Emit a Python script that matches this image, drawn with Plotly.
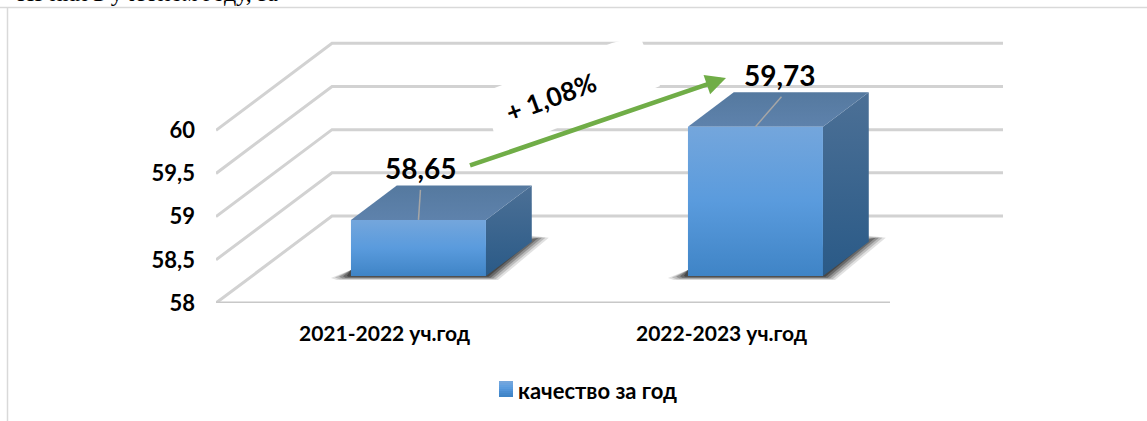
import plotly.graph_objects as go

# ---------- data ----------
categories = ["2021-2022 уч.год", "2022-2023 уч.год"]
quality = [58.65, 59.73]
value_labels = ["58,65", "59,73"]
y_ticks = [58, 58.5, 59, 59.5, 60]
y_tick_labels = ["58", "58,5", "59", "59,5", "60"]
series_name = "качество за год"
delta_label = "+ 1,08%"
clipped_line = "Из них в учебном году, за"

# ---------- oblique-projection geometry ----------
W, H = 1147, 421
L, R, T, B = 216, 144, 40, 118
SLOT = 337.0            # px per category
UNIT = 86.35            # px per value unit
X0, X1 = -0.5, -0.5 + (W - L - R) / SLOT
Y0, Y1 = 58.0, 58.0 + (H - T - B) / UNIT
DEPTH_X = 116 / SLOT    # category units, full depth of the floor
DEPTH_Y = 87 / UNIT     # value units, full depth of the floor
BAR_HALF = 67.5 / SLOT
BAR_SHIFT = -2 / SLOT
T_FRONT, T_BACK = 0.31, 0.705
FONT = "Lato, Carlito, 'Open Sans', sans-serif"
LABEL_DX = [3, 25]      # px offset of the value labels from the bar's front face
LEADER_DX = [2, 26]
SWATCH = ["#74a6dc", "#6ca3de", "#62a0df", "#5a9bdd", "#5294d8", "#4a8dd1", "#4488cb", "#3f84c6"]


def pr(x, v, t=0.0):
    """Project a (category, value, depth) point on the axes."""
    return x + t * DEPTH_X, v + t * DEPTH_Y


def px(xp, yp):
    """Axis coordinates of a decorative element given in screen offset."""
    return X0 + (xp - L) / SLOT, Y0 + (H - B - yp) / UNIT


def poly(points, **kw):
    xs, ys = zip(*(points + points[:1]))
    return go.Scatter(x=xs, y=ys, mode="lines", fill="toself", line=dict(width=0),
                      hoverinfo="skip", showlegend=False, cliponaxis=False, **kw)


def grad(top, mid, bottom=None):
    cs = [[0, bottom], [0.5, mid], [1, top]] if bottom else [[0, mid], [1, top]]
    return dict(type="vertical", colorscale=cs)


def paper_x(xp):
    return (xp - L) / (W - L - R)


def paper_y(yp):
    return (H - B - yp) / (H - T - B)


fig = go.Figure()
GRID = "#d2d2d2"


def line(pts, color=GRID, width=3):
    xs, ys = zip(*pts)
    fig.add_trace(go.Scatter(x=xs, y=ys, mode="lines", line=dict(color=color, width=width),
                             hoverinfo="skip", showlegend=False, cliponaxis=False))


# gridlines: side wall + back wall, and the floor front edge
for v in y_ticks:
    line([pr(X0, v, 0), pr(X0, v, 1), pr(X0 + (1003 - 332) / SLOT, v, 1)])
line([pr(X0, 58), pr(X0 + 2, 58)], color="#c8c8c8")

# white label box that hides parts of the gridlines
fig.add_trace(poly([px(484, 92), px(612, 43), px(640, 36), px(660, 86), px(550, 131), px(498, 150)],
                   fillcolor="white"))

# bars
for i, v in enumerate(quality):
    c = i + BAR_SHIFT
    xl, xr = c - BAR_HALF, c + BAR_HALF
    # blurred contact shadow
    bl, br = pr(xl, 58, T_FRONT), pr(xr, 58, T_FRONT)
    bb = pr(xr, 58, T_BACK)
    for k, a in ((1.0, 0.14), (0.8, 0.2), (0.6, 0.28), (0.4, 0.38), (0.2, 0.5)):
        fig.add_trace(poly([(bl[0] - 20 * k / SLOT, bl[1] + (1 - 3 * k) / UNIT),
                            (bl[0] - 14 * k / SLOT, bl[1] - 4 * k / UNIT),
                            (br[0] + 12 * k / SLOT, br[1] - 4 * k / UNIT),
                            (bb[0] + 17 * k / SLOT, bb[1] + 4 / UNIT),
                            (bb[0], bb[1] + 6 * k / UNIT),
                            (bl[0], bl[1] + 6 / UNIT)],
                           fillcolor=f"rgba(40,40,40,{a})"))
    fl, fr = pr(xl, v, T_FRONT), pr(xr, v, T_FRONT)
    fbl, fbr = pr(xl, 58, T_FRONT), pr(xr, 58, T_FRONT)
    bkl, bkr = pr(xl, v, T_BACK), pr(xr, v, T_BACK)
    bkb = pr(xr, 58, T_BACK)
    # side, top, front
    fig.add_trace(poly([fr, bkr, bkb, fbr], fillgradient=grad("#4c7096", "#2a5a87")))
    fig.add_trace(poly([fl, fr, bkr, bkl], fillgradient=grad("#55799f", "#5e82ac")))
    fig.add_trace(poly([fl, fr, fbr, fbl], fillgradient=grad("#74a6dc", "#5a9bdd", "#3f84c6"),
                       name=categories[i]))
    # leader line and value label
    sx, sy = pr(c, v, T_FRONT)
    line([(sx, sy), (sx + LEADER_DX[i] / SLOT, sy + 30 / UNIT)], color="#a6a6a6", width=1.5)
    fig.add_annotation(x=sx + LABEL_DX[i] / SLOT, y=sy + 52 / UNIT,
                       text=f"<b>{value_labels[i]}</b>", showarrow=False,
                       font=dict(family=FONT, size=28, color="black"))

# growth arrow
hx, hy = px(726, 78)
tx, ty = px(468.5, 166)
fig.add_annotation(x=hx, y=hy, ax=tx, ay=ty, xref="x", yref="y", axref="x", ayref="y",
                   showarrow=True, arrowhead=2, arrowsize=0.9, arrowwidth=4.5,
                   arrowcolor="#70ad47", text="")
cx, cy = px(551, 97)
fig.add_annotation(x=cx, y=cy, text=f"<b>{delta_label}</b>", textangle=-20, showarrow=False,
                   font=dict(family=FONT, size=26, color="black"))

# legend swatch (gradient bands) and text
swatch_shapes = [
    dict(type="rect", xref="paper", yref="paper", x0=paper_x(499), x1=paper_x(513),
         y0=paper_y(381 + 2 * n), y1=paper_y(383 + 2 * n), fillcolor=col, line=dict(width=0))
    for n, col in enumerate(SWATCH)
]
fig.add_annotation(xref="paper", yref="paper", x=paper_x(518), y=paper_y(390.5),
                   text=f"<b>{series_name}</b>", showarrow=False, xanchor="left", yanchor="middle",
                   xshift=-2, font=dict(family=FONT, size=22, color="black"))
# clipped text of the surrounding page
fig.add_annotation(xref="paper", yref="paper", x=paper_x(15), y=paper_y(-7),
                   yanchor="middle", xanchor="left", text=clipped_line, showarrow=False,
                   font=dict(family="Liberation Serif", size=24, color="black"))

fig.update_layout(
    width=W, height=H, autosize=False,
    margin=dict(l=L, r=R, t=T, b=B, pad=0),
    paper_bgcolor="white", plot_bgcolor="white", showlegend=False,
    shapes=[
        dict(type="line", xref="paper", yref="paper", x0=-1, x1=2, y0=paper_y(7.5), y1=paper_y(7.5),
             line=dict(color="#d9d9d9", width=1.5)),
        dict(type="line", xref="paper", yref="paper", x0=paper_x(7.5), x1=paper_x(7.5),
             y0=-1, y1=paper_y(7.5), line=dict(color="#d9d9d9", width=1.5)),
    ] + swatch_shapes,
    xaxis=dict(range=[X0, X1], tickmode="array", tickvals=[0, 1], ticktext=[f"<b>{c}</b>" for c in categories],
               showgrid=False, zeroline=False, showline=False, ticks="", ticklabelstandoff=16,
               tickfont=dict(family=FONT, size=21, color="black")),
    yaxis=dict(range=[Y0, Y1], tickmode="array", tickvals=y_ticks, ticktext=[f"<b>{c}</b>" for c in y_tick_labels],
               showgrid=False, zeroline=False, showline=False, ticks="", ticklabelstandoff=20,
               tickfont=dict(family=FONT, size=22, color="black")),
)
fig.write_html("out.html", config=dict(displayModeBar=False),
               post_script="document.body.style.margin='0';document.body.style.overflow='hidden';")
